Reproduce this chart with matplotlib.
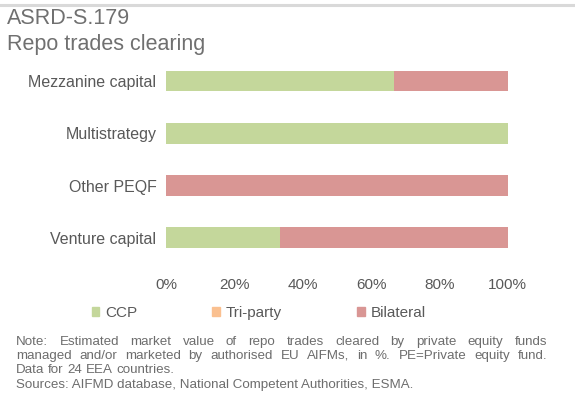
import matplotlib.pyplot as plt
from matplotlib.patches import Patch
from matplotlib.lines import Line2D
import numpy as np

plt.rcParams['font.family'] = ['Liberation Sans', 'DejaVu Sans']

# fund types, top to bottom
categories = ['Mezzanine capital', 'Multistrategy', 'Other PEQF', 'Venture capital']
ccp = [66.7, 100.0, 0.0, 33.3]
tri_party = [0.0, 0.0, 0.0, 0.0]
bilateral = [33.3, 0.0, 100.0, 66.7]
series_names = ['CCP', 'Tri-party', 'Bilateral']
colors = ['#c4d79b', '#fac090', '#d99694']

xticks = [0, 20, 40, 60, 80, 100]
xtick_labels = ['0%', '20%', '40%', '60%', '80%', '100%']

title_1 = 'ASRD-S.179'
title_2 = 'Repo trades clearing'
note_lines = ['Note: Estimated market value of repo trades cleared by private equity funds',
              'managed and/or marketed by authorised EU AIFMs, in %. PE=Private equity fund.',
              'Data for 24 EEA countries.']
sources = 'Sources: AIFMD database, National Competent Authorities, ESMA.'

txt = '#595959'
note_col = '#6d6d6d'
W, H = 575, 398

fig = plt.figure(figsize=(W / 100, H / 100), dpi=100)
ax = fig.add_axes([0.289, 0.337, 0.594, 0.525])

y = np.arange(len(categories))
left = np.zeros(len(categories))
for vals, name, c in zip([ccp, tri_party, bilateral], series_names, colors):
    vals = np.array(vals) / 100
    ax.barh(y, vals, left=left, height=0.4, color=c, label=name)
    left += vals

ax.set_ylim(len(categories) - 0.5, -0.5)
ax.set_xlim(0, 1)
ax.set_yticks(y)
ax.set_yticklabels(categories, fontsize=11.5, color=txt)
ax.set_xticks(np.array(xticks) / 100)
ax.set_xticklabels(xtick_labels, fontsize=11, color=txt)
ax.tick_params(axis='y', length=0, pad=7)
ax.tick_params(axis='x', length=0, pad=10.5)
for s in ax.spines.values():
    s.set_visible(False)

handles = [Patch(color=c) for c in colors]
fig.legend(handles, series_names, loc='center', bbox_to_anchor=(0.45, 0.2136),
           ncol=3, frameon=False, fontsize=11, labelcolor=txt,
           handlelength=0.5, handleheight=0.5, handletextpad=0.4,
           columnspacing=4.9)

# grey rule across the top
fig.add_artist(Line2D([0, 1], [0.988, 0.988], color='#d9d9d9', lw=2.2,
                      transform=fig.transFigure))

fig.text(0.012, 1 - 24 / H, title_1, fontsize=15.5, color='#707070', va='baseline')
fig.text(0.012, 1 - 50 / H, title_2, fontsize=15.5, color='#707070', va='baseline')

# justified note block
renderer = fig.canvas.get_renderer()
fs_note = 9.6
x0, x1 = 16, 547
baselines = [345, 359, 373]
for i, (line, yb) in enumerate(zip(note_lines, baselines)):
    words = line.split()
    arts = [fig.text(0, 1 - yb / H, w, fontsize=fs_note, color=note_col, va='baseline')
            for w in words]
    widths = [a.get_window_extent(renderer).width for a in arts]
    if i < len(note_lines) - 1:
        gap = (x1 - x0 - sum(widths)) / (len(words) - 1)
    else:
        sp = fig.text(0, 0, ' ', fontsize=fs_note)
        gap = sp.get_window_extent(renderer).width
        sp.remove()
    x = x0
    for a, w in zip(arts, widths):
        a.set_x(x / W)
        x += w + gap

fig.text(x0 / W, 1 - 388 / H, sources, fontsize=fs_note, color=note_col, va='baseline')

fig.savefig('out.png', dpi=100)
